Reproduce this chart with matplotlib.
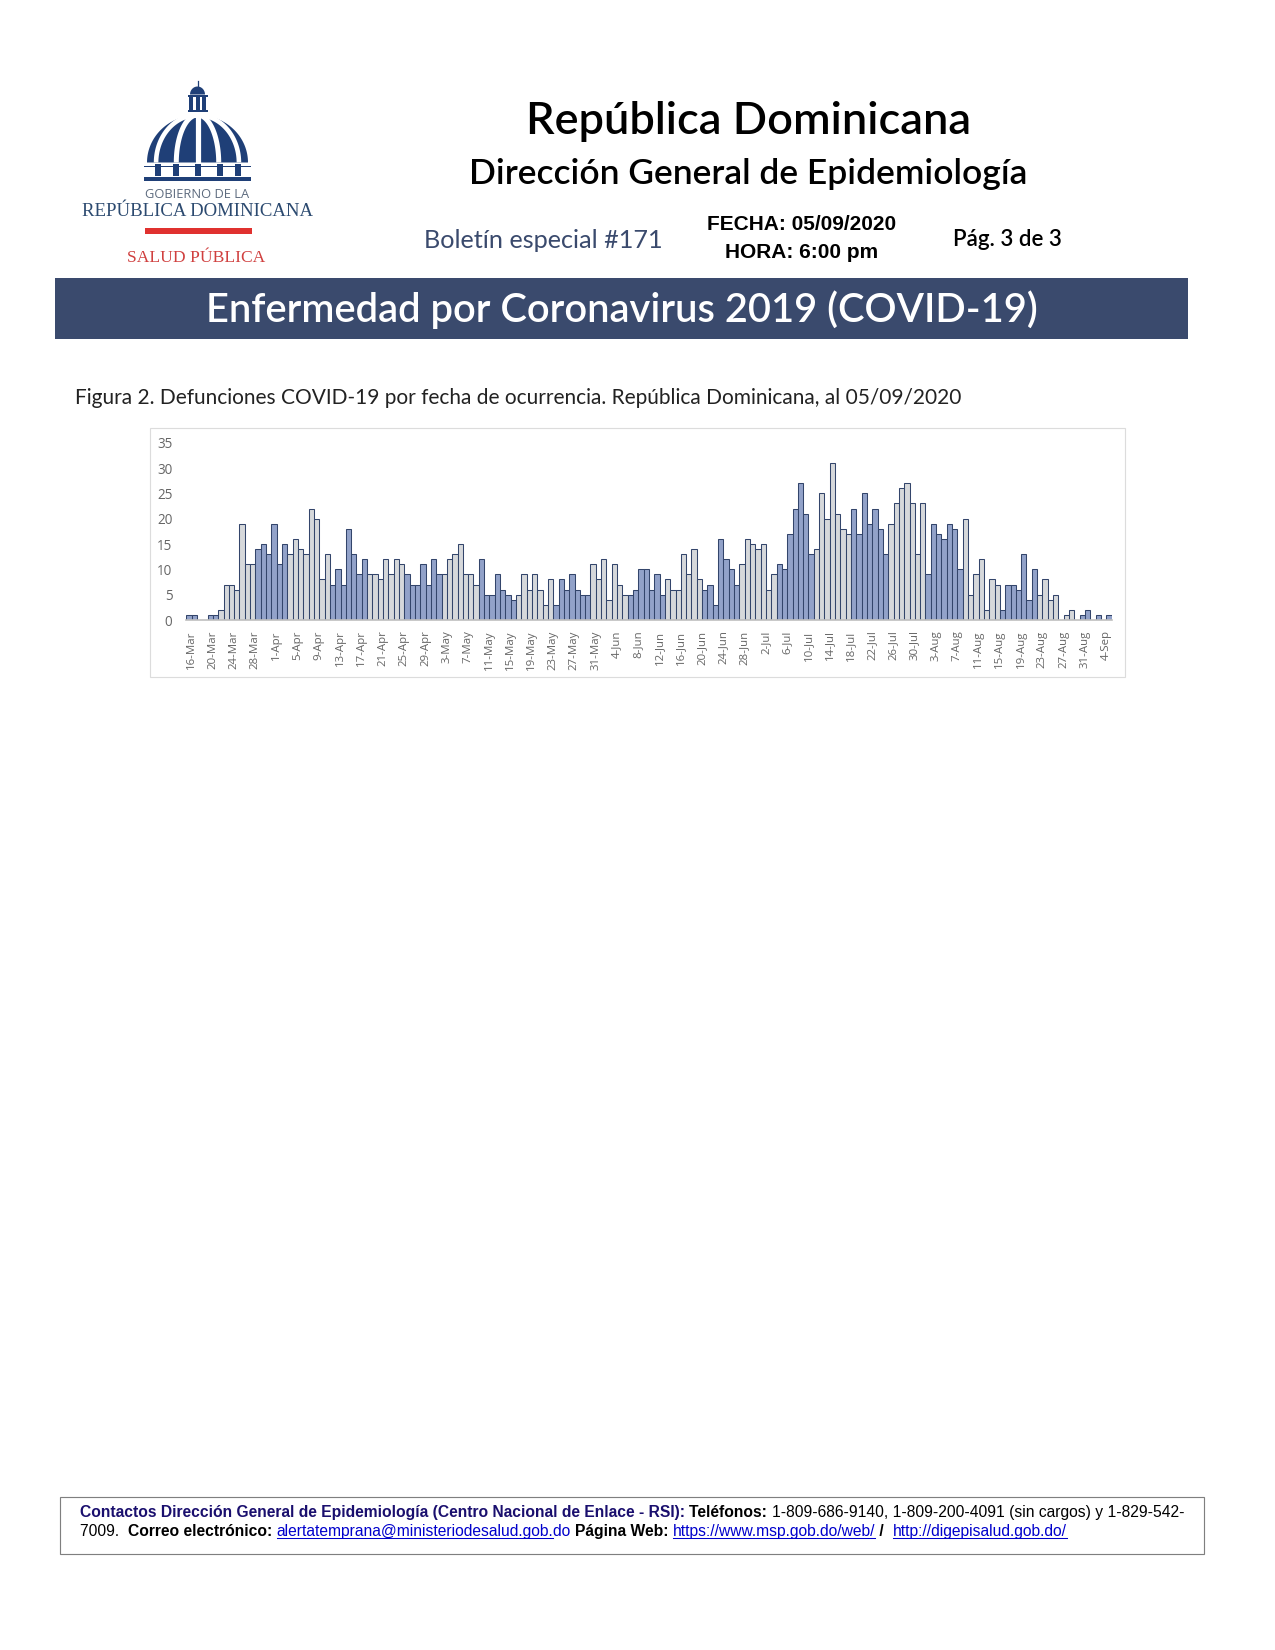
import numpy as np
import matplotlib
matplotlib.use('Agg')
import matplotlib.pyplot as plt
from matplotlib.patches import Rectangle, Polygon
from matplotlib.transforms import ScaledTranslation

# ---------- data ----------
deaths = [1,1,0,0,1,1,2,7,7,6,19,11,11,14,15,13,19,11,15,13,16,14,13,22,20,8,13,
          7,10,7,18,13,9,12,9,9,8,12,9,12,11,9,7,7,11,7,12,9,9,12,13,15,9,9,7,
          12,5,5,9,6,5,4,5,9,6,9,6,3,8,3,8,6,9,6,5,5,11,8,12,4,11,7,5,
          5,6,10,10,6,9,5,8,6,6,13,9,14,8,6,7,3,16,12,10,7,11,16,15,14,15,6,9,
          11,10,17,22,27,21,13,14,25,20,31,21,18,17,22,17,25,19,22,18,13,
          19,23,26,27,23,13,23,9,19,17,16,19,18,10,20,5,9,12,2,8,7,
          2,7,7,6,13,4,10,5,8,4,5,0,1,2,0,1,2,0,1,0,1]
# lengths of the alternating blue / grey runs of bars
run_lengths = [6,7,6,8,7,7,7,7,7,7,7,7,7,7,7,7,7,7,7,7,7,7,7,7,7]
tick_labels = ['16-Mar','20-Mar','24-Mar','28-Mar','1-Apr','5-Apr','9-Apr','13-Apr','17-Apr',
               '21-Apr','25-Apr','29-Apr','3-May','7-May','11-May','15-May','19-May','23-May',
               '27-May','31-May','4-Jun','8-Jun','12-Jun','16-Jun','20-Jun','24-Jun','28-Jun',
               '2-Jul','6-Jul','10-Jul','14-Jul','18-Jul','22-Jul','26-Jul','30-Jul','3-Aug',
               '7-Aug','11-Aug','15-Aug','19-Aug','23-Aug','27-Aug','31-Aug','4-Sep']
y_ticks = [0,5,10,15,20,25,30,35]

BLUE, GREY = '#92a2c9', '#d6d8db'
NAVY = '#1f3f77'
SLATE = '#3a4a6d'
W, H = 1275, 1650

fig = plt.figure(figsize=(W/150, H/150), dpi=150, facecolor='white')
page = fig.add_axes([0, 0, 1, 1])
page.set_xlim(0, W); page.set_ylim(H, 0); page.axis('off')

def t(x, y, s, size, family='Lato', color='black', weight='normal', ha='center', **kw):
    return page.text(x, y, s, fontsize=size, family=family, color=color, weight=weight,
                     ha=ha, va='center', **kw)

# ---------- logo ----------
cx = 197.5
def dome_xy(frac_base, steps=40, a=50.5, b=47.5, base=162.5):
    phi = np.linspace(0, np.pi/2*0.97, steps)
    return cx + a*frac_base*np.cos(phi), base - b*np.sin(phi)
phi = np.linspace(0, np.pi, 80)
page.add_patch(Polygon(np.c_[cx + 50.5*np.cos(phi), 162.5 - 47.5*np.sin(phi)], fc=NAVY, ec='none'))
for f, lw in [(0, 2.5), (.42, 2.4), (-.42, 2.4), (.82, 2.2), (-.82, 2.2)]:
    x_, y_ = dome_xy(f)
    page.plot(x_, y_, color='white', lw=lw, solid_capstyle='butt')
page.add_patch(Rectangle((cx-10, 113), 20, 5, fc='white', ec='none'))
page.add_patch(Rectangle((cx-10, 110), 20, 2, fc=NAVY, ec='none'))
for dx in (-6.5, 0, 6.5):
    page.add_patch(Rectangle((cx+dx-2, 97), 4, 13, fc=NAVY, ec='none'))
page.add_patch(Rectangle((cx-10, 94.5), 20, 2.2, fc=NAVY, ec='none'))
phi = np.linspace(0, np.pi, 30)
page.add_patch(Polygon(np.c_[cx + 7.5*np.cos(phi), 94.5 - 8*np.sin(phi)], fc=NAVY, ec='none'))
page.plot([cx, cx], [81, 87], color=NAVY, lw=.6)
page.add_patch(Rectangle((cx-53.5, 166), 107, 1.3, fc=NAVY, ec='none'))
for dx in (-40, -22, 0, 22, 40):
    page.add_patch(Rectangle((cx+dx-3, 164), 6, 12, fc=NAVY, ec='none'))
page.add_patch(Rectangle((cx-53.5, 176.5), 107, 4, fc=NAVY, ec='none'))
t(197, 194, 'GOBIERNO DE LA', 6.2, family='Open Sans', color='#5d6b7e')
t(197.5, 211, 'REPÚBLICA DOMINICANA', 9.0, family='Liberation Serif', color='#2c4a70')
page.add_patch(Rectangle((144.5, 228), 107, 5.5, fc='#e0312f', ec='none'))
t(196, 258, 'SALUD PÚBLICA', 8.4, family='Liberation Serif', color='#d0403f')

# ---------- header ----------
t(748.5, 121, 'República Dominicana', 21.7, weight='semibold')
t(748.5, 174, 'Dirección General de Epidemiología', 17.0, weight='semibold')
t(543, 240, 'Boletín especial #171', 12.1, color=SLATE)
t(802, 225, 'FECHA: 05/09/2020', 10.05, family='Liberation Sans', weight='bold')
t(802, 252, 'HORA: 6:00 pm', 10.05, family='Liberation Sans', weight='bold')
t(1007, 240, 'Pág. 3 de 3', 10.7, weight='semibold')
page.add_patch(Rectangle((55, 278), 1133, 61, fc=SLATE, ec='none'))
t(622, 310, 'Enfermedad por Coronavirus 2019 (COVID-19)', 19.15, color='white', weight='semibold')
t(75, 398.5, 'Figura 2. Defunciones COVID-19 por fecha de ocurrencia. República Dominicana, al 05/09/2020',
  10.03, ha='left', color='#222222')

# ---------- chart ----------
page.add_patch(Rectangle((150, 428), 974.5, 249, fc='white', ec='#dcdcdc', lw=.55))
x_px0, x_px1 = 186.0, 1112.0       # axes edges, pixels
y_px0, y_px1 = 620.0, 442.7        # value 0 and value 35, pixels
ax = fig.add_axes([x_px0/W, 1-y_px0/H, (x_px1-x_px0)/W, (y_px0-y_px1)/H], facecolor='none')
x = np.arange(len(deaths))
colors = []
for i, n in enumerate(run_lengths):
    colors += [BLUE if i % 2 == 0 else GREY]*n
ax.bar(x, deaths, width=1.0, color=colors[:len(x)], edgecolor='#33456b', linewidth=.5)
ax.set_xlim(-0.56, len(x)-0.5+0.08)
ax.set_ylim(0, 35)
for s in ('top', 'right', 'left'):
    ax.spines[s].set_visible(False)
ax.spines['bottom'].set_color('#bfbfbf')
ax.spines['bottom'].set_linewidth(.8)
ax.set_xticks(x[::4][:len(tick_labels)])
ax.set_xticklabels(tick_labels, rotation=90, fontsize=5.5, family='Open Sans', color='#666666')
ax.set_yticks(y_ticks)
ax.set_yticklabels(y_ticks, fontsize=6.5, family='Open Sans', color='#666666')
ax.tick_params(axis='both', length=0)
ax.tick_params(axis='x', pad=5)
ax.tick_params(axis='y', pad=6.5)
shift = ScaledTranslation(2.5/150, 0, fig.dpi_scale_trans)
for lab in ax.get_xticklabels():
    lab.set_transform(lab.get_transform() + shift)

# ---------- footer ----------
page.add_patch(Rectangle((60, 1497), 1143.5, 57, fc='white', ec='#7f7f7f', lw=.55))
renderer = fig.canvas.get_renderer()
def runs(x0, y, parts, size=7.5):
    x_ = x0
    for s, col, wt, link in parts:
        tx = page.text(x_, y, s.replace(' ', '\u00a0'), fontsize=size, family='Liberation Sans',
                       color=col, weight=wt, ha='left', va='baseline')
        bb = tx.get_window_extent(renderer)
        if link:
            page.plot([x_, x_+bb.width], [y+2.2, y+2.2], color=col, lw=.5)
        x_ += bb.width
PUR, LNK = '#1a0f6e', '#0000cc'
runs(80, 1517, [('Contactos Dirección General de Epidemiología (Centro Nacional de Enlace - RSI): ', PUR, 'bold', 0),
                ('Teléfonos: ', 'black', 'bold', 0),
                ('1-809-686-9140, 1-809-200-4091 (sin cargos) y 1-829-542-', 'black', 'normal', 0)])
runs(80, 1536, [('7009.  ', 'black', 'normal', 0), ('Correo electrónico: ', 'black', 'bold', 0),
                ('alertatemprana@ministeriodesalud.gob.', LNK, 'normal', 1), ('do ', LNK, 'normal', 0),
                ('Página Web: ', 'black', 'bold', 0),
                ('https://www.msp.gob.do/web/', LNK, 'normal', 1), (' / ', 'black', 'bold', 0),
                (' ', 'black', 'normal', 0), ('http://digepisalud.gob.do/', LNK, 'normal', 1)])

fig.savefig('out.png', dpi=150, facecolor='white')
